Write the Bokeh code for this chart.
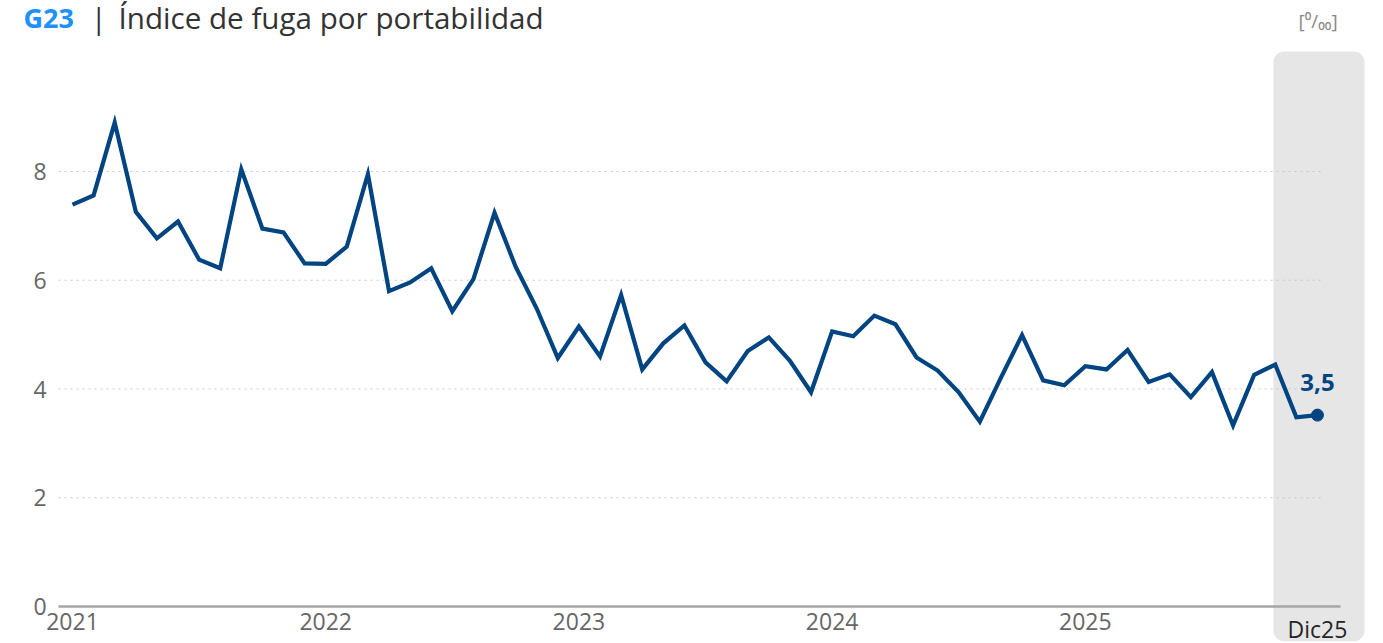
from bokeh.plotting import figure
from bokeh.models import Range1d, LinearAxis, FixedTicker, BoxAnnotation
from bokeh.core.properties import value
from bokeh.embed import file_html
from bokeh.resources import INLINE

# ---------------- data ----------------
years = ["2021", "2022", "2023", "2024", "2025"]
last_label = "Dic25"
values = [
    7.39, 7.56, 8.90, 7.26, 6.77, 7.08, 6.38, 6.22, 8.04, 6.95, 6.88, 6.31,   # 2021
    6.30, 6.62, 7.95, 5.80, 5.96, 6.22, 5.43, 6.02, 7.24, 6.25, 5.48, 4.57,   # 2022
    5.15, 4.60, 5.73, 4.36, 4.84, 5.17, 4.49, 4.14, 4.70, 4.95, 4.52, 3.94,   # 2023
    5.06, 4.97, 5.35, 5.19, 4.58, 4.34, 3.94, 3.40, 4.21, 4.99, 4.16, 4.07,   # 2024
    4.42, 4.36, 4.72, 4.13, 4.27, 3.85, 4.31, 3.33, 4.26, 4.45, 3.48, 3.52,   # 2025
]
y_ticks = [0, 2, 4, 6, 8]
grid_ticks = [2, 4, 6, 8]

idx = list(range(len(values)))
year_pos = [12 * i for i in range(len(years))]
last_x = idx[-1]
last_v = values[-1]
last_txt = f"{last_v:.1f}".replace(".", ",")

BLUE = "#004481"
AX_FONT = "Open Sans"

p = figure(width=1383, height=643,
           x_range=Range1d(-3.412, 62.13), y_range=Range1d(-0.680, 11.145),
           output_backend="svg", toolbar_location=None, title=None,
           min_border=0, outline_line_color=None,
           x_axis_type=None, y_axis_type=None)
p.background_fill_color = "white"

# highlight box for last month
p.add_layout(BoxAnnotation(left=last_x - 2.09, right=last_x + 2.23, top=10.207, bottom=-0.64,
                           fill_color="#e6e6e6", fill_alpha=1.0, line_color=None,
                           border_radius=11, level="underlay"))

# dotted gridlines
p.segment(x0=-0.66, x1=last_x + 0.3, y0=grid_ticks, y1=grid_ticks,
          line_color="#c8c8c8", line_dash="2 4", line_width=1.2)

# y axis
yax = LinearAxis(ticker=FixedTicker(ticks=y_ticks), fixed_location=-0.66,
                 axis_line_color=None, major_tick_line_color=None, minor_tick_line_color=None,
                 major_tick_out=0, major_tick_in=0,
                 major_label_text_font=AX_FONT, major_label_text_font_size="23px",
                 major_label_text_color="#666666", major_label_standoff=12)
p.add_layout(yax, "left")

# x axis (years)
xax = LinearAxis(ticker=FixedTicker(ticks=year_pos),
                 major_label_overrides={pos: lab for pos, lab in zip(year_pos, years)},
                 fixed_location=0, bounds=(-0.66, last_x + 1.1),
                 axis_line_color="#a6a6a6", axis_line_width=2.5,
                 major_tick_line_color=None, minor_tick_line_color=None,
                 major_tick_out=0, major_tick_in=0,
                 major_label_text_font=AX_FONT, major_label_text_font_size="23px",
                 major_label_text_color="#666666", major_label_standoff=6)
p.add_layout(xax, "below")

xax2 = LinearAxis(ticker=FixedTicker(ticks=[last_x]),
                  major_label_overrides={last_x: last_label},
                  fixed_location=0, axis_line_color=None,
                  major_tick_line_color=None, minor_tick_line_color=None,
                  major_tick_out=0, major_tick_in=0,
                  major_label_text_font=AX_FONT, major_label_text_font_size="23px",
                  major_label_text_color="#262626", major_label_standoff=6)
p.add_layout(xax2, "below")

# series
p.line(x=idx, y=values, line_color=BLUE, line_width=4.2, line_join="miter")
p.scatter(x=[last_x], y=[last_v], size=12, fill_color=BLUE, line_color=BLUE)
p.text(x=[last_x], y=[last_v], text=[last_txt], text_font=value("Open Sans"),
       text_font_style="bold", text_font_size="24px", text_color=BLUE,
       text_align="center", text_baseline="alphabetic", y_offset=-33)

# title
p.text(x=[-2.322], y=[10.84], text=["G23"], text_font=value("Open Sans"),
       text_font_style="bold", text_font_size="27px", text_color="#1e90ff",
       text_align="left", text_baseline="alphabetic")
p.text(x=[0.866], y=[10.84], text=["|"], text_font=value("Open Sans"),
       text_font_size="29px", text_color="#333333",
       text_align="left", text_baseline="alphabetic")
p.text(x=[2.18], y=[10.84], text=["Índice de fuga por portabilidad"], text_font=value("Open Sans"),
       text_font_size="29.6px", text_color="#333333",
       text_align="left", text_baseline="alphabetic")
p.text(x=[58.1], y=[10.76], text=["[⁰/₀₀]"], text_font=value("Open Sans"),
       text_font_size="19px", text_color="#888888",
       text_align="left", text_baseline="middle")

open("out.html", "w").write(file_html(p, INLINE))
